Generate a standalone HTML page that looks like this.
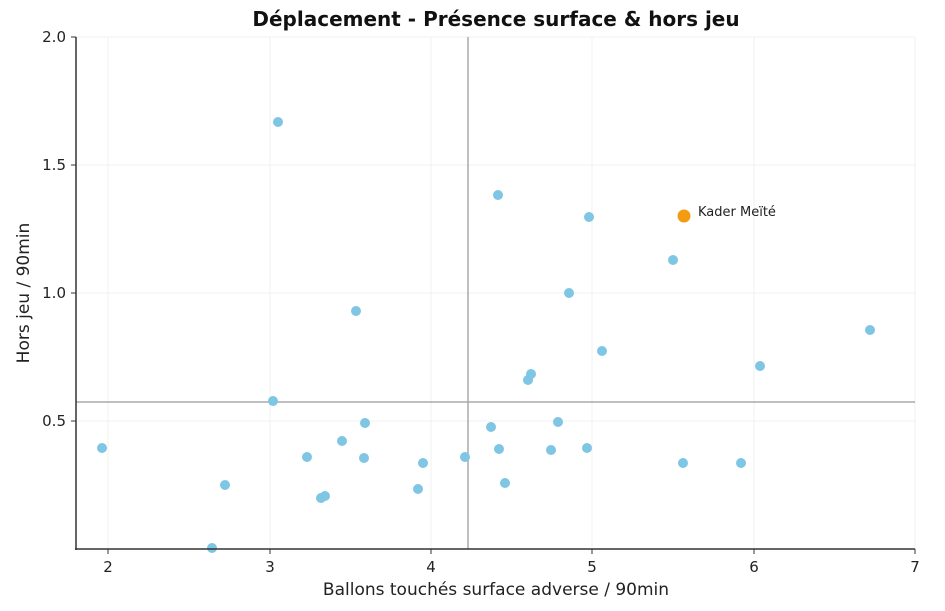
<!DOCTYPE html>
<html><head><style>body{margin:0;background:#fff;}svg{display:block;font-family:"DejaVu Sans","Liberation Sans",sans-serif;}</style></head>
<body>
<svg width="945" height="611" xmlns="http://www.w3.org/2000/svg">
<rect width="945" height="611" fill="#fff"/>
<g stroke="#f0f0f0" stroke-width="1">
<line x1="108" y1="37" x2="108" y2="549"/><line x1="270" y1="37" x2="270" y2="549"/><line x1="431" y1="37" x2="431" y2="549"/><line x1="592" y1="37" x2="592" y2="549"/><line x1="754" y1="37" x2="754" y2="549"/><line x1="915" y1="37" x2="915" y2="549"/>
<line x1="76" y1="37" x2="915" y2="37"/><line x1="76" y1="165" x2="915" y2="165"/><line x1="76" y1="293" x2="915" y2="293"/><line x1="76" y1="421" x2="915" y2="421"/>
</g>
<line x1="76" y1="402" x2="915" y2="402" stroke="#aaa" stroke-width="1.5"/>
<line x1="468" y1="37" x2="468" y2="549" stroke="#aaa" stroke-width="1.5"/>
<g fill="#7ec6e4">
<circle cx="102" cy="448" r="5"/><circle cx="278" cy="122" r="5"/><circle cx="273" cy="401" r="5"/><circle cx="225" cy="485" r="5"/><circle cx="212" cy="548" r="5"/><circle cx="307" cy="457" r="5"/><circle cx="321" cy="498" r="5"/><circle cx="325" cy="496" r="5"/><circle cx="342" cy="441" r="5"/><circle cx="356" cy="311" r="5"/><circle cx="365" cy="423" r="5"/><circle cx="364" cy="458" r="5"/><circle cx="418" cy="489" r="5"/><circle cx="423" cy="463" r="5"/><circle cx="465" cy="457" r="5"/><circle cx="491" cy="427" r="5"/><circle cx="498" cy="195" r="5"/><circle cx="499" cy="449" r="5"/><circle cx="505" cy="483" r="5"/><circle cx="528" cy="380" r="5"/><circle cx="531" cy="374" r="5"/><circle cx="551" cy="450" r="5"/><circle cx="558" cy="422" r="5"/><circle cx="569" cy="293" r="5"/><circle cx="587" cy="448" r="5"/><circle cx="589" cy="217" r="5"/><circle cx="602" cy="351" r="5"/><circle cx="673" cy="260" r="5"/><circle cx="683" cy="463" r="5"/><circle cx="741" cy="463" r="5"/><circle cx="760" cy="366" r="5"/><circle cx="870" cy="330" r="5"/>
</g>
<circle cx="684" cy="216" r="6.5" fill="#f39c12"/>
<text x="698" y="216" font-size="13" fill="#222">Kader Meïté</text>
<g stroke="#333" stroke-width="1.5"><line x1="76" y1="37" x2="76" y2="550"/><line x1="75" y1="549" x2="915" y2="549"/></g>
<g stroke="#333" stroke-width="1">
<line x1="108" y1="549" x2="108" y2="554"/><line x1="270" y1="549" x2="270" y2="554"/><line x1="431" y1="549" x2="431" y2="554"/><line x1="592" y1="549" x2="592" y2="554"/><line x1="754" y1="549" x2="754" y2="554"/><line x1="915" y1="549" x2="915" y2="554"/>
<line x1="71" y1="37" x2="76" y2="37"/><line x1="71" y1="165" x2="76" y2="165"/><line x1="71" y1="293" x2="76" y2="293"/><line x1="71" y1="421" x2="76" y2="421"/>
</g>
<g font-size="15" fill="#222" text-anchor="middle">
<text x="108" y="572">2</text><text x="270" y="572">3</text><text x="431" y="572">4</text><text x="592" y="572">5</text><text x="754" y="572">6</text><text x="915" y="572">7</text>
</g>
<g font-size="15" fill="#222" text-anchor="end">
<text x="66" y="42">2.0</text><text x="66" y="170">1.5</text><text x="66" y="298">1.0</text><text x="66" y="426">0.5</text>
</g>
<text x="496" y="595" font-size="17" fill="#222" text-anchor="middle">Ballons touchés surface adverse / 90min</text>
<text transform="translate(29,293) rotate(-90)" font-size="17" fill="#222" text-anchor="middle">Hors jeu / 90min</text>
<text x="496" y="26" font-size="20" font-weight="bold" fill="#111" text-anchor="middle">Déplacement - Présence surface &amp; hors jeu</text>
</svg>
</body></html>
